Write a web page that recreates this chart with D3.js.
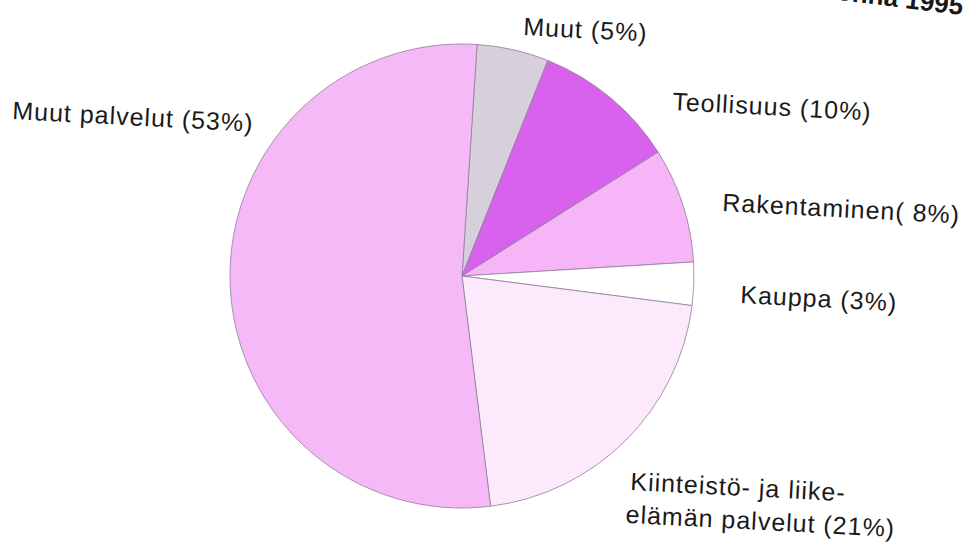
<!DOCTYPE html>
<html>
<head>
<meta charset="utf-8">
<script src="https://cdn.jsdelivr.net/npm/d3@7"></script>
<style>
  body { margin: 0; background: #fff; }
  text { font-family: "Liberation Sans", Arial, sans-serif; fill: #1a1a1a; }
</style>
</head>
<body>
<div id="chart"></div>
<script>
// Data for the pie
var categories = ["Muut", "Teollisuus", "Rakentaminen", "Kauppa", "Kiinteistö- ja liike-elämän palvelut", "Muut palvelut"]
var shares = [5, 10, 8, 3, 21, 53]
var labels = [
    ["Muut (5%)"],
    ["Teollisuus (10%)"],
    ["Rakentaminen( 8%)"],
    ["Kauppa (3%)"],
    ["Kiinteistö- ja liike-", "elämän palvelut (21%)"],
    ["Muut palvelut (53%)"]
]
var colors = ["#d7cfdb", "#d862ee", "#f5b5f7", "#ffffff", "#fce9fc", "#f6b9f7"]
var titleText = "Työlliset toimialoittain Helsingissä vuonna 1995"

var width = 963
var height = 546
var cx = 462
var cy = 276
var radius = 232

// label anchor points (start of the first line)
var labelPos = [[523, 35], [672, 110], [722, 211], [740, 303], [630, 490], [12, 119]]

const svg = d3.select("#chart")
.append("svg")
.attr("width", width)
.attr("height", height)

// title, tilted and mostly cut off by the top edge like the scan
svg.append("text")
.attr("transform", "translate(962,15) rotate(7)")
.attr("text-anchor", "end")
.style("font-size", "26px")
.style("font-weight", "bold")
.text(titleText)

var pie = d3.pie()
.sort(null)
.startAngle(0.065)
.endAngle(0.065 + 2 * Math.PI)

var arc = d3.arc()
.innerRadius(0)
.outerRadius(radius)

var g = svg.append("g")
.attr("transform", "translate(" + cx + "," + cy + ")")

g.selectAll("path")
.data(pie(shares))
.enter()
.append("path")
.attr("d", arc)
.attr("fill", function(d, i){ return colors[i] })
.attr("stroke", "#8f7f99")
.attr("stroke-width", 0.8)

// labels, slightly tilted like the scanned original
svg.selectAll(".lbl")
.data(labels)
.enter()
.append("text")
.attr("class", "lbl")
.attr("transform", function(d, i){
    return "translate(" + labelPos[i][0] + "," + labelPos[i][1] + ") rotate(3)"
})
.style("font-size", "25px")
.style("letter-spacing", "1px")
.each(function(d){
    var t = d3.select(this)
    d.forEach(function(line, j){
        t.append("tspan")
        .attr("x", j == 0 ? 0 : -3)
        .attr("y", j * 33)
        .text(line)
    })
})
</script>
</body>
</html>
